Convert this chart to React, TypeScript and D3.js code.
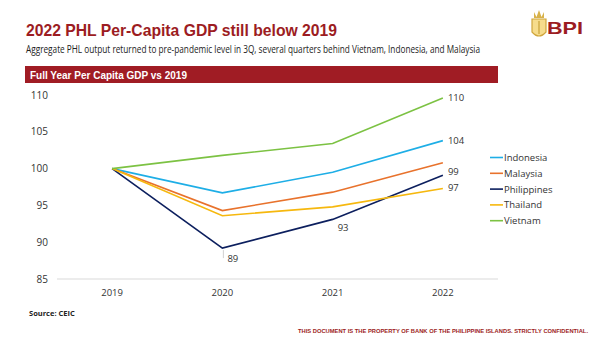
import React from "react";
import * as d3 from "d3";

const years = ["2019", "2020", "2021", "2022"];
const indonesia = [100, 96.7, 99.5, 103.8];
const malaysia = [100, 94.3, 96.8, 100.8];
const philippines = [100, 89.2, 93.1, 99.1];
const thailand = [100, 93.6, 94.8, 97.3];
const vietnam = [100, 101.8, 103.4, 109.6];
const seriesNames = ["Indonesia", "Malaysia", "Philippines", "Thailand", "Vietnam"];
const seriesColors = ["#1eaee6", "#e8722c", "#0c1f5e", "#f6b80e", "#7cc243"];
const yTicks = [85, 90, 95, 100, 105, 110];

const labels = [
  { s: 4, i: 3, text: "110", dx: 5, dy: 3 },
  { s: 0, i: 3, text: "104", dx: 5, dy: 3 },
  { s: 2, i: 3, text: "99", dx: 5, dy: 0 },
  { s: 3, i: 3, text: "97", dx: 5, dy: 3 },
  { s: 2, i: 2, text: "93", dx: 5, dy: 12 },
  { s: 2, i: 1, text: "89", dx: 5, dy: 14 },
];

export default function App() {
  const W = 600, H = 338;
  const data = [indonesia, malaysia, philippines, thailand, vietnam];
  const x = d3.scaleBand<string>().domain(years).range([57, 498]);
  const y = d3.scaleLinear().domain([85, 110]).range([279, 95]);
  const cx = (yr: string) => (x(yr) as number) + x.bandwidth() / 2;
  const line = d3
    .line<number>()
    .x((_, i) => cx(years[i]))
    .y((d) => y(d));
  const red = "#9c1c22";
  return (
    <svg width={W} height={H} style={{ position: "absolute", left: 0, top: 0, background: "#fff" }}>
      <rect width={W} height={H} fill="#fff" />
      <text x={26} y={36} fontFamily="Liberation Sans, Arial" fontWeight="bold" fontSize={16.5} fill={red} textLength={311} lengthAdjust="spacingAndGlyphs">
        2022 PHL Per-Capita GDP still below 2019
      </text>
      <text x={26} y={53} fontFamily="Open Sans, sans-serif" fontSize={10.3} fill="#222" textLength={454} lengthAdjust="spacingAndGlyphs">
        Aggregate PHL output returned to pre-pandemic level in 3Q, several quarters behind Vietnam, Indonesia, and Malaysia
      </text>
      {/* logo */}
      <g>
        <path d="M532,19 L546,19 L546,32 Q539,40 532,32 Z" fill="#f6dc8c" stroke="#d0a63c" strokeWidth={1.2} />
        <path d="M534,12 L536.5,17 L539,10 L541.5,17 L544,12 L544,18 L534,18 Z" fill="#d8b24a" />
        <line x1={539} x2={539} y1={21} y2={34} stroke="#c9a23a" strokeWidth={1.2} />
        <text x={547} y={34} fontFamily="Liberation Sans, Arial" fontWeight="bold" fontSize={17} fill={red} textLength={36} lengthAdjust="spacingAndGlyphs">BPI</text>
      </g>
      <rect x={25} y={66} width={473} height={17} fill="#a01c24" />
      <text x={30} y={78.5} fontFamily="Liberation Sans, Arial" fontWeight="bold" fontSize={10} fill="#fff">
        Full Year Per Capita GDP vs 2019
      </text>
      <line x1={57} x2={498} y1={y(85)} y2={y(85)} stroke="#d9d9d9" strokeWidth={1} />
      {yTicks.map((t) => (
        <text key={t} x={48} y={y(t) + 3.5} textAnchor="end" fontFamily="Open Sans, sans-serif" fontSize={10} fill="#333">
          {t}
        </text>
      ))}
      {years.map((yr) => (
        <text key={yr} x={cx(yr)} y={296} textAnchor="middle" fontFamily="Open Sans, sans-serif" fontSize={9.5} fill="#333">
          {yr}
        </text>
      ))}
      {data.map((d, s) => (
        <path key={s} d={line(d) as string} fill="none" stroke={seriesColors[s]} strokeWidth={1.6} />
      ))}
      <line x1={cx("2020") + 1} x2={cx("2020") + 1} y1={y(89.2) + 2} y2={y(89.2) + 10} stroke="#bbb" strokeWidth={0.7} />
      {labels.map((l, k) => (
        <text key={k} x={cx(years[l.i]) + l.dx} y={y(data[l.s][l.i]) + l.dy} fontFamily="Open Sans, sans-serif" fontSize={9.5} fill="#333">
          {l.text}
        </text>
      ))}
      {seriesNames.map((n, s) => (
        <g key={n} transform={`translate(490,${157.5 + s * 15.8})`}>
          <line x1={0} x2={13} y1={0} y2={0} stroke={seriesColors[s]} strokeWidth={1.6} />
          <text x={14} y={3.5} fontFamily="Open Sans, sans-serif" fontSize={9.5} fill="#333">{n}</text>
        </g>
      ))}
      <text x={29} y={316} fontFamily="Open Sans, sans-serif" fontWeight="bold" fontSize={7.5} fill="#222">Source: CEIC</text>
      <text x={298} y={333} fontFamily="Liberation Sans, Arial" fontWeight="bold" fontSize={5.5} fill={red} textLength={290} lengthAdjust="spacingAndGlyphs">
        THIS DOCUMENT IS THE PROPERTY OF BANK OF THE PHILIPPINE ISLANDS.  STRICTLY CONFIDENTIAL.
      </text>
    </svg>
  );
}
